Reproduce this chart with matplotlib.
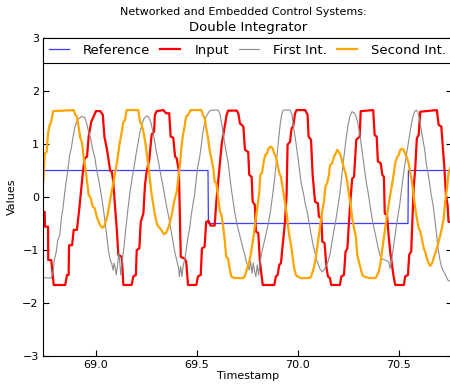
import matplotlib
matplotlib.use("Agg")
import matplotlib.pyplot as plt

# Reference (blue step)
ref_t = [68.734, 69.556, 69.558, 70.546, 70.548, 70.764]
ref_v = [0.5, 0.5, -0.5, -0.5, 0.5, 0.5]

# Input (red)
input_t = [68.734, 68.747, 68.749, 68.764, 68.765, 68.780, 68.792, 68.849, 68.858, 68.866,
           68.868, 68.883, 68.891, 68.907, 68.919, 68.936, 68.945, 68.957, 68.965, 68.978,
           68.990, 69.001, 69.023, 69.035, 69.043, 69.056, 69.072, 69.079, 69.087, 69.095,
           69.104, 69.112, 69.129, 69.137, 69.178, 69.186, 69.199, 69.203, 69.216, 69.223,
           69.236, 69.244, 69.252, 69.265, 69.277, 69.289, 69.293, 69.302, 69.335, 69.348,
           69.364, 69.371, 69.384, 69.393, 69.401, 69.412, 69.421, 69.440, 69.448, 69.457,
           69.498, 69.506, 69.520, 69.526, 69.539, 69.547, 69.559, 69.569, 69.589, 69.597,
           69.615, 69.624, 69.632, 69.648, 69.656, 69.698, 69.706, 69.714, 69.731, 69.739,
           69.755, 69.760, 69.772, 69.777, 69.788, 69.793, 69.805, 69.813, 69.827, 69.884,
           69.892, 69.901, 69.909, 69.917, 69.929, 69.937, 69.945, 69.950, 69.962, 69.970,
           69.978, 69.987, 69.995, 70.037, 70.049, 70.054, 70.066, 70.074, 70.086, 70.100,
           70.105, 70.117, 70.122, 70.133, 70.143, 70.150, 70.160, 70.166, 70.209, 70.216,
           70.229, 70.237, 70.246, 70.254, 70.262, 70.270, 70.279, 70.290, 70.307, 70.312,
           70.374, 70.381, 70.391, 70.397, 70.411, 70.419, 70.427, 70.431, 70.442, 70.450,
           70.458, 70.467, 70.475, 70.483, 70.526, 70.532, 70.546, 70.552, 70.562, 70.574,
           70.582, 70.590, 70.599, 70.607, 70.689, 70.698, 70.711, 70.718, 70.726, 70.734,
           70.742, 70.747, 70.764]
input_v = [-0.28, -0.28, -0.56, -0.56, -1.19, -1.19, -1.66, -1.66, -1.47, -1.47,
           -0.91, -0.91, -0.62, -0.62, -0.21, 0.45, 0.73, 0.76, 1.14, 1.42,
           1.52, 1.62, 1.62, 1.55, 1.14, 0.89, 0.49, 0.49, 0.29, -0.15,
           -0.59, -1.09, -1.13, -1.66, -1.66, -1.50, -1.47, -1.00, -0.97, -0.47,
           -0.31, 0.23, 0.48, 0.70, 1.18, 1.23, 1.55, 1.62, 1.64, 1.58,
           1.58, 1.14, 1.12, 0.76, 0.73, 0.48, -1.13, -1.16, -1.22, -1.66,
           -1.66, -1.50, -1.47, -0.97, -0.94, -0.47, -0.45, -0.54, -0.54, -0.09,
           0.64, 1.01, 1.17, 1.55, 1.63, 1.63, 1.58, 1.39, 1.33, 0.89,
           0.85, 0.42, 0.38, -0.09, -0.15, -0.65, -0.68, -1.22, -1.66, -1.66,
           -1.50, -1.47, -1.28, -1.25, -0.78, -0.47, 0.04, 0.99, 1.04, 1.30,
           1.33, 1.58, 1.64, 1.64, 1.55, 1.14, 1.08, 0.42, -0.09, -0.12,
           -0.37, -0.40, -0.84, -0.87, -1.35, -1.50, -1.53, -1.66, -1.66, -1.50,
           -1.47, -1.03, -0.97, -0.47, -0.02, 0.35, 0.38, 1.08, 1.14, 1.62,
           1.64, 1.17, 1.14, 0.67, 0.64, 0.42, 0.38, -0.31, -0.34, -0.72,
           -1.03, -1.28, -1.50, -1.66, -1.66, -1.50, -1.47, -1.09, -1.03, 0.16,
           0.54, 1.11, 1.17, 1.61, 1.64, 1.36, 1.33, 0.98, 0.57, 0.04,
           -0.15, -0.47, -0.47]

# First integrator (grey)
first_t = [68.734, 68.780, 68.789, 68.795, 68.805, 68.812, 68.822, 68.830, 68.838, 68.847,
           68.854, 68.863, 68.871, 68.879, 68.888, 68.896, 68.904, 68.916, 68.932, 68.946,
           68.955, 68.965, 68.975, 68.985, 68.995, 69.005, 69.015, 69.025, 69.035, 69.045,
           69.054, 69.064, 69.072, 69.079, 69.086, 69.091, 69.097, 69.102, 69.109, 69.114,
           69.119, 69.124, 69.130, 69.140, 69.150, 69.160, 69.170, 69.180, 69.190, 69.199,
           69.209, 69.219, 69.229, 69.239, 69.252, 69.262, 69.272, 69.282, 69.292, 69.302,
           69.312, 69.322, 69.332, 69.342, 69.351, 69.361, 69.371, 69.381, 69.391, 69.401,
           69.411, 69.414, 69.421, 69.427, 69.434, 69.440, 69.448, 69.457, 69.465, 69.473,
           69.482, 69.490, 69.498, 69.506, 69.515, 69.523, 69.531, 69.540, 69.547, 69.561,
           69.572, 69.605, 69.614, 69.622, 69.630, 69.638, 69.646, 69.655, 69.663, 69.671,
           69.680, 69.688, 69.696, 69.704, 69.713, 69.721, 69.729, 69.738, 69.745, 69.754,
           69.760, 69.767, 69.774, 69.780, 69.787, 69.793, 69.800, 69.807, 69.813, 69.823,
           69.835, 69.846, 69.856, 69.866, 69.876, 69.886, 69.896, 69.906, 69.914, 69.922,
           69.929, 69.963, 69.972, 69.980, 69.988, 69.996, 70.005, 70.013, 70.021, 70.030,
           70.037, 70.047, 70.057, 70.067, 70.077, 70.087, 70.090, 70.100, 70.110, 70.120,
           70.130, 70.140, 70.150, 70.160, 70.170, 70.180, 70.189, 70.199, 70.209, 70.219,
           70.229, 70.239, 70.249, 70.259, 70.269, 70.279, 70.288, 70.298, 70.308, 70.318,
           70.328, 70.338, 70.348, 70.358, 70.368, 70.378, 70.387, 70.397, 70.407, 70.417,
           70.433, 70.450, 70.458, 70.463, 70.472, 70.480, 70.488, 70.496, 70.505, 70.513,
           70.521, 70.530, 70.537, 70.546, 70.554, 70.562, 70.571, 70.579, 70.587, 70.595,
           70.604, 70.612, 70.620, 70.629, 70.636, 70.645, 70.653, 70.661, 70.670, 70.678,
           70.686, 70.694, 70.703, 70.711, 70.719, 70.728, 70.735, 70.744, 70.764]
first_v = [-1.52, -1.53, -1.41, -1.19, -1.03, -0.81, -0.72, -0.40, -0.21, 0.10,
           0.29, 0.54, 0.79, 0.92, 1.14, 1.30, 1.41, 1.48, 1.52, 1.50,
           1.39, 1.23, 1.11, 0.89, 0.76, 0.51, 0.32, 0.10, -0.15, -0.43,
           -0.72, -1.03, -1.19, -1.25, -1.38, -1.25, -1.35, -1.47, -1.25, -1.06,
           -1.22, -1.47, -1.25, -0.94, -0.56, -0.21, 0.10, 0.35, 0.57, 0.79,
           1.01, 1.23, 1.37, 1.48, 1.53, 1.51, 1.42, 1.26, 1.04, 0.82,
           0.64, 0.42, 0.23, 0.01, -0.18, -0.37, -0.59, -0.81, -1.03, -1.19,
           -1.35, -1.50, -1.31, -1.50, -1.28, -1.19, -1.00, -0.75, -0.59, -0.34,
           -0.12, 0.04, 0.35, 0.59, 0.76, 0.98, 1.23, 1.41, 1.52, 1.61,
           1.64, 1.64, 1.58, 1.42, 1.23, 1.04, 0.84, 0.67, 0.42, 0.16,
           -0.08, -0.28, -0.45, -0.59, -0.72, -0.84, -0.97, -1.09, -1.22, -1.30,
           -1.38, -1.22, -1.44, -1.25, -1.41, -1.50, -1.28, -1.47, -1.25, -1.03,
           -0.84, -0.65, -0.47, -0.25, 0.04, 0.35, 0.73, 1.11, 1.39, 1.58,
           1.64, 1.64, 1.55, 1.30, 1.11, 0.89, 0.64, 0.38, 0.19, 0.04,
           -0.12, -0.28, -0.50, -0.72, -0.92, -1.06, -1.16, -1.25, -1.35, -1.41,
           -1.38, -1.30, -1.22, -1.08, -0.84, -0.62, -0.43, -0.18, 0.07, 0.42,
           0.76, 1.08, 1.35, 1.53, 1.61, 1.59, 1.53, 1.39, 1.17, 0.89,
           0.60, 0.32, 0.10, -0.15, -0.40, -0.59, -0.75, -0.94, -1.09, -1.17,
           -1.19, -1.22, -1.35, -1.25, -1.00, -0.78, -0.56, -0.37, -0.15, 0.10,
           0.35, 0.60, 0.76, 0.98, 1.17, 1.36, 1.52, 1.61, 1.64, 1.60,
           1.45, 1.26, 1.08, 0.89, 0.64, 0.45, 0.26, 0.04, -0.14, -0.40,
           -0.65, -0.94, -1.16, -1.30, -1.38, -1.44, -1.50, -1.57, -1.60]

# Second integrator (orange)
second_t = [68.734, 68.741, 68.748, 68.757, 68.764, 68.772, 68.780, 68.789, 68.891, 68.899,
            68.907, 68.916, 68.924, 68.932, 68.941, 68.952, 68.965, 68.975, 68.985, 68.995,
            69.005, 69.018, 69.031, 69.041, 69.051, 69.059, 69.067, 69.076, 69.087, 69.096,
            69.107, 69.117, 69.129, 69.137, 69.145, 69.153, 69.211, 69.219, 69.228, 69.236,
            69.245, 69.255, 69.265, 69.275, 69.285, 69.295, 69.305, 69.318, 69.328, 69.338,
            69.348, 69.358, 69.368, 69.378, 69.388, 69.401, 69.407, 69.416, 69.424, 69.432,
            69.440, 69.448, 69.457, 69.470, 69.523, 69.531, 69.540, 69.547, 69.556, 69.564,
            69.572, 69.581, 69.589, 69.597, 69.605, 69.614, 69.622, 69.630, 69.638, 69.646,
            69.655, 69.663, 69.671, 69.688, 69.729, 69.738, 69.745, 69.752, 69.760, 69.770,
            69.780, 69.790, 69.800, 69.810, 69.815, 69.823, 69.832, 69.839, 69.848, 69.856,
            69.868, 69.876, 69.884, 69.892, 69.901, 69.909, 69.917, 69.926, 69.934, 69.942,
            69.950, 69.958, 69.967, 69.975, 69.983, 69.991, 70.000, 70.016, 70.057, 70.066,
            70.074, 70.082, 70.089, 70.097, 70.105, 70.114, 70.122, 70.130, 70.138, 70.146,
            70.155, 70.160, 70.171, 70.180, 70.188, 70.196, 70.204, 70.213, 70.221, 70.229,
            70.237, 70.245, 70.254, 70.262, 70.270, 70.279, 70.287, 70.295, 70.303, 70.312,
            70.320, 70.328, 70.353, 70.386, 70.394, 70.402, 70.411, 70.417, 70.426, 70.433,
            70.442, 70.450, 70.458, 70.467, 70.475, 70.483, 70.491, 70.500, 70.508, 70.516,
            70.525, 70.532, 70.541, 70.549, 70.557, 70.566, 70.574, 70.582, 70.590, 70.599,
            70.607, 70.615, 70.624, 70.631, 70.640, 70.648, 70.656, 70.665, 70.673, 70.681,
            70.689, 70.698, 70.706, 70.714, 70.723, 70.730, 70.739, 70.747, 70.764]
second_v = [0.04, 0.35, 0.82, 0.85, 1.20, 1.36, 1.42, 1.62, 1.64, 1.55,
            1.52, 1.30, 1.11, 1.04, 0.73, 0.45, 0.04, -0.02, -0.18, -0.21,
            -0.37, -0.50, -0.58, -0.56, -0.45, -0.34, -0.15, 0.04, 0.26, 0.45,
            0.70, 0.98, 1.23, 1.42, 1.45, 1.64, 1.64, 1.42, 1.36, 1.23,
            1.04, 0.76, 0.45, 0.10, -0.15, -0.37, -0.53, -0.59, -0.64, -0.70,
            -0.68, -0.60, -0.47, -0.31, -0.09, 0.10, 0.29, 0.57, 0.92, 1.17,
            1.33, 1.52, 1.55, 1.64, 1.64, 1.55, 1.48, 1.30, 1.11, 0.89,
            0.73, 0.57, 0.29, 0.26, 0.04, -0.25, -0.34, -0.53, -0.78, -1.13,
            -1.16, -1.35, -1.50, -1.53, -1.53, -1.50, -1.41, -1.31, -1.22, -1.03,
            -0.78, -0.47, -0.21, 0.10, 0.42, 0.45, 0.67, 0.79, 0.82, 0.92,
            0.95, 0.92, 0.82, 0.76, 0.60, 0.45, 0.38, 0.16, -0.02, -0.21,
            -0.47, -0.72, -0.91, -1.13, -1.35, -1.47, -1.50, -1.53, -1.53, -1.50,
            -1.41, -1.30, -1.16, -0.94, -0.72, -0.47, -0.25, -0.09, 0.21, 0.26,
            0.42, 0.60, 0.64, 0.76, 0.82, 0.89, 0.85, 0.78, 0.67, 0.54,
            0.45, 0.29, 0.04, -0.15, -0.40, -0.59, -0.72, -1.09, -1.22, -1.35,
            -1.47, -1.50, -1.53, -1.53, -1.47, -1.40, -1.22, -1.03, -0.78, -0.59,
            -0.35, -0.15, 0.04, 0.23, 0.42, 0.64, 0.74, 0.79, 0.89, 0.91,
            0.89, 0.82, 0.74, 0.64, 0.47, 0.28, 0.04, -0.21, -0.40, -0.59,
            -0.65, -0.79, -0.97, -1.03, -1.16, -1.25, -1.30, -1.25, -1.16, -1.06,
            -0.97, -0.84, -0.72, -0.59, -0.40, -0.09, 0.16, 0.45, 0.65]

x_ticks = [69.0, 69.5, 70.0, 70.5]
y_ticks = [-3, -2, -1, 0, 1, 2, 3]

fig = plt.figure(figsize=(4.5, 3.89), dpi=100)
# axes runs a couple of pixels past the right edge, like the original crop
ax = fig.add_axes([43 / 450, 33 / 389, 409 / 450, 318 / 389])

ax.plot(ref_t, ref_v, color='#3c3cff', lw=0.9, label='Reference')
ax.plot(input_t, input_v, color='red', lw=1.6, label='Input')
ax.plot(first_t, first_v, color='#8c8c8c', lw=0.8, label='First Int.')
ax.plot(second_t, second_v, color='orange', lw=1.6, label='Second Int.')

ax.set_xlim(68.739, 70.764)
ax.set_ylim(-3, 3)
ax.set_xticks(x_ticks)
ax.set_xticklabels(['%.1f' % v for v in x_ticks])
ax.set_yticks(y_ticks)
ax.tick_params(direction='in', length=4, width=0.8, labelsize=8, pad=3,
               top=True, right=True)
for sp in ax.spines.values():
    sp.set_linewidth(0.8)

leg = ax.legend(loc='upper left', bbox_to_anchor=(0, 1, 1, 0), mode='expand',
                ncol=4, fontsize=9.5, borderaxespad=0, handlelength=1.5,
                handletextpad=1.1, borderpad=0.45, fancybox=False,
                edgecolor='black', framealpha=1)
leg.get_frame().set_linewidth(0.8)

fig.text(243 / 450, 1 - 12 / 389, 'Networked and Embedded Control Systems:',
         ha='center', va='center', fontsize=8)
fig.text(248 / 450, 1 - 27 / 389, 'Double Integrator',
         ha='center', va='center', fontsize=9.5)
fig.text(248 / 450, 1 - 376 / 389, 'Timestamp', ha='center', va='center', fontsize=8)
fig.text(12 / 450, 1 - 197 / 389, 'Values', ha='center', va='center',
         rotation=90, fontsize=8)

fig.savefig('out.png', dpi=100)
